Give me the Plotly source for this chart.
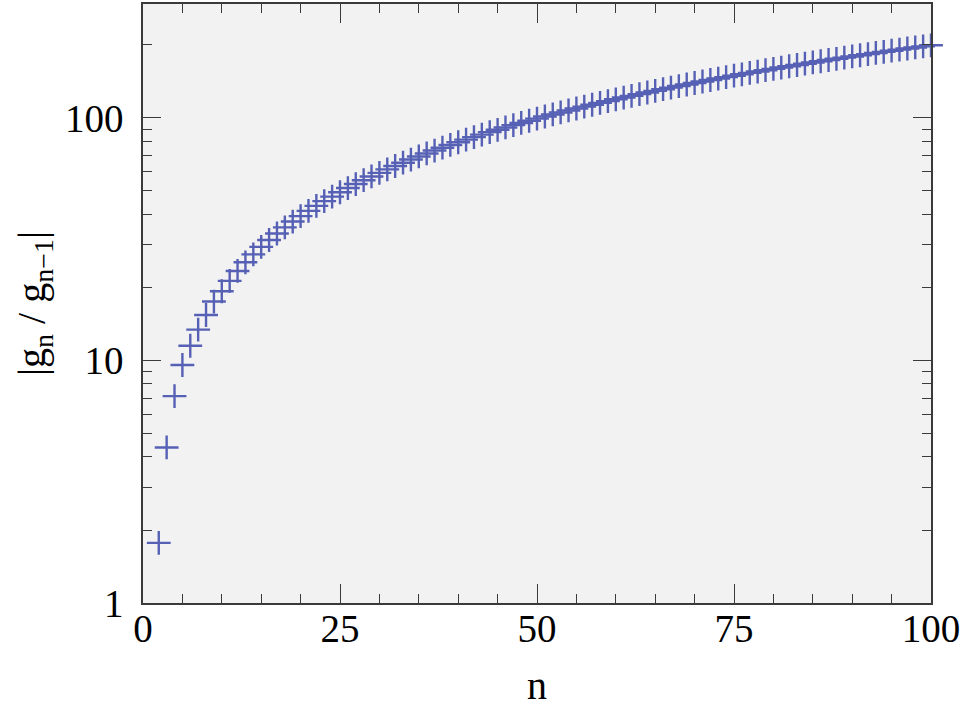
import plotly.graph_objects as go

n_values = list(range(2, 101))
ratio_values = [
    1.77, 4.38, 7.13, 9.58, 11.5, 13.4, 15.4, 17.5, 19.3, 21.3,
    23.4, 25.4, 27.4, 29.4, 31.4, 33.4, 35.4, 37.4, 39.4, 41.4,
    43.4, 45.4, 47.4, 49.4, 51.4, 53.4, 55.4, 57.4, 59.4, 61.4,
    63.4, 65.4, 67.4, 69.4, 71.4, 73.4, 75.4, 77.4, 79.4, 81.4,
    83.4, 85.4, 87.4, 89.4, 91.4, 93.4, 95.4, 97.4, 99.4, 101.4,
    103.4, 105.4, 107.4, 109.4, 111.4, 113.4, 115.4, 117.4, 119.4, 121.4,
    123.4, 125.4, 127.4, 129.4, 131.4, 133.4, 135.4, 137.4, 139.4, 141.4,
    143.4, 145.4, 147.4, 149.4, 151.4, 153.4, 155.4, 157.4, 159.4, 161.4,
    163.4, 165.4, 167.4, 169.4, 171.4, 173.4, 175.4, 177.4, 179.4, 181.4,
    183.4, 185.4, 187.4, 189.4, 191.4, 193.4, 195.4, 197.4, 199.4,
]

x_ticks = [0, 25, 50, 75, 100]
x_tick_labels = ["0", "25", "50", "75", "100"]
y_ticks = [1, 10, 100]
y_tick_labels = ["1", "10", "100"]
y_minor = [2, 3, 4, 5, 6, 7, 8, 9, 20, 30, 40, 50, 60, 70, 80, 90, 200]
x_minor = [v for v in range(0, 101, 5)]

MARK = "#5660B4"
AXC = "#3a3a3a"
FONT = "Liberation Serif"

fig = go.Figure()
fig.add_trace(go.Scatter(
    x=n_values, y=ratio_values, mode="markers",
    marker=dict(symbol="cross-thin", size=17, line=dict(color=MARK, width=2.4), color=MARK),
    cliponaxis=False, showlegend=False,
))

fig.update_layout(
    width=967, height=712,
    margin=dict(l=143, r=36, t=4, b=109, autoexpand=False),
    paper_bgcolor="white", plot_bgcolor="#F2F2F3",
    font=dict(family=FONT, size=39, color="black"),
    xaxis=dict(
        range=[0, 100], tickmode="array", tickvals=x_ticks, ticktext=x_tick_labels,
        ticks="inside", ticklen=19, tickwidth=1.3, tickcolor=AXC,
        showline=True, linecolor=AXC, linewidth=1.5, mirror="ticks",
        showgrid=False, zeroline=False, automargin=False,
        minor=dict(tickmode="array", tickvals=x_minor, ticks="inside", ticklen=9,
                   tickwidth=1.1, tickcolor=AXC, showgrid=False),
        tickfont=dict(family=FONT, size=39),
        title=dict(text="n", font=dict(family=FONT, size=40), standoff=22),
        ticklabelstandoff=-10,
    ),
    yaxis=dict(
        type="log", range=[0, 2.47], tickmode="array", tickvals=y_ticks, ticktext=y_tick_labels,
        ticks="inside", ticklen=18, tickwidth=1.3, tickcolor=AXC,
        showline=True, linecolor=AXC, linewidth=1.5, mirror="ticks",
        showgrid=False, zeroline=False, automargin=False,
        minor=dict(tickmode="array", tickvals=y_minor, ticks="inside", ticklen=9,
                   tickwidth=1.1, tickcolor=AXC, showgrid=False),
        tickfont=dict(family=FONT, size=39),
        title=dict(text="|g<sub>n</sub> / g<sub>n\u22121</sub>|", font=dict(family=FONT, size=40), standoff=7),
        ticklabelstandoff=10,
    ),
)

fig.write_html("out.html", config={"displayModeBar": False},
               post_script="document.body.style.margin='0';document.body.style.padding='0';")
